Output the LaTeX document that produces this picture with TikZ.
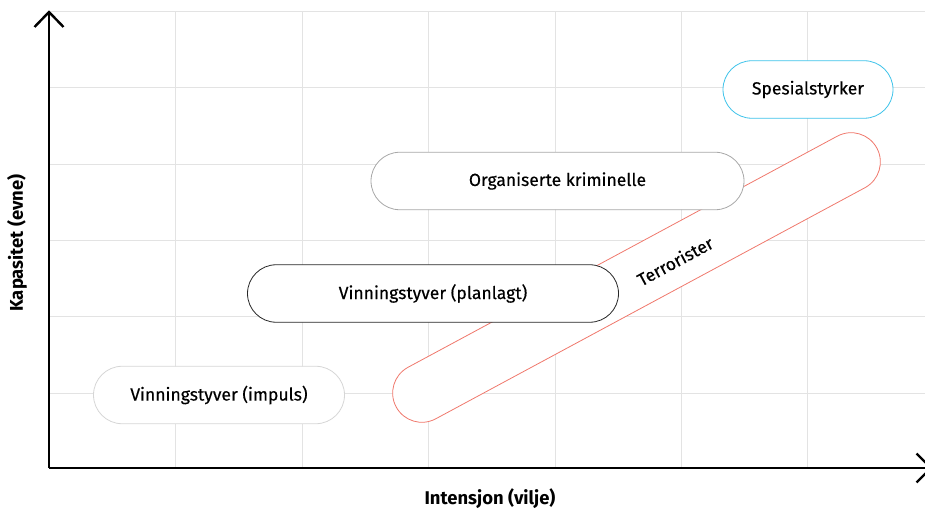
\documentclass[tikz,border=0pt]{standalone}
\usepackage{fontspec}
\setmainfont{Fira Sans}
\newfontfamily\pillfont{Fira Sans}[FakeBold=0.35]
\usetikzlibrary{shapes.misc}

\definecolor{gridgrey}{HTML}{E3E3E3}
\definecolor{softgrey}{HTML}{D6D6D6}
\definecolor{midgrey}{HTML}{A8A8A8}
\definecolor{skyline}{HTML}{3EC3EA}
\definecolor{terrred}{HTML}{F0786C}

\tikzset{
  gridline/.style={draw=gridgrey, line width=1bp},
  axisline/.style={draw=black, line width=2.4bp, line cap=butt},
  chevron/.style={draw=black, line width=2.4bp, line join=miter},
  pilltext/.style={font=\pillfont\fontsize{17.6}{20}\selectfont},
  pill/.style={rounded rectangle, draw, fill=white, line width=0.8bp,
    minimum height=57.5bp, inner sep=0pt, text=black, pilltext},
  axislabel/.style={font=\bfseries\fontsize{18.5}{21}\selectfont, inner sep=0pt},
}

\begin{document}
\begin{tikzpicture}[x=1bp, y=-1bp]
  \useasboundingbox (0,0) rectangle (925,510);
  \clip (0,0) rectangle (925,510);

  % background grid
  \foreach \gy in {12,88,165,241,317,393}
    \draw[gridline] (49,\gy) -- (925,\gy);
  \foreach \gx in {175.5,302,428,555,681,807.5}
    \draw[gridline] (\gx,12) -- (\gx,468);

  % axes
  \coordinate (origin) at (49,468);
  \coordinate (ytip) at (49,12);
  \coordinate (xtip) at (931,468);
  \draw[axisline] (origin) -- (ytip);
  \draw[axisline] (origin) -- (xtip);
  \draw[chevron] ([shift={(-14.5,15)}]ytip) -- (ytip) -- ([shift={(14.5,15)}]ytip);
  \draw[chevron] ([shift={(-14.5,-14.5)}]xtip) -- (xtip) -- ([shift={(-14.5,14.5)}]xtip);

  % slanted band
  \node[pill, draw=terrred, minimum width=546bp, minimum height=58.5bp,
        rotate=28.3] (terr) at (636.5,277.5) {};
  \node[pilltext, inner sep=0pt, rotate=28.3] (terrlabel) at (675,261) {Terrorister};

  % categories
  \node[pill, draw=softgrey, minimum width=251bp] (impuls) at (219,395) {Vinningstyver (impuls)};
  \node[pill, draw=black!85, minimum width=371bp] (planlagt) at (433,293.5) {Vinningstyver (planlagt)};
  \node[pill, draw=midgrey, minimum width=373bp] (organisert) at (557.5,181) {Organiserte kriminelle};
  \node[pill, draw=skyline, minimum width=170bp] (spesial) at (808,89.5) {Spesialstyrker};

  % axis labels
  \node[axislabel, rotate=90] (ylabel) at (17,243) {Kapasitet (evne)};
  \node[axislabel] (xlabel) at (490,499) {Intensjon (vilje)};
\end{tikzpicture}
\end{document}
